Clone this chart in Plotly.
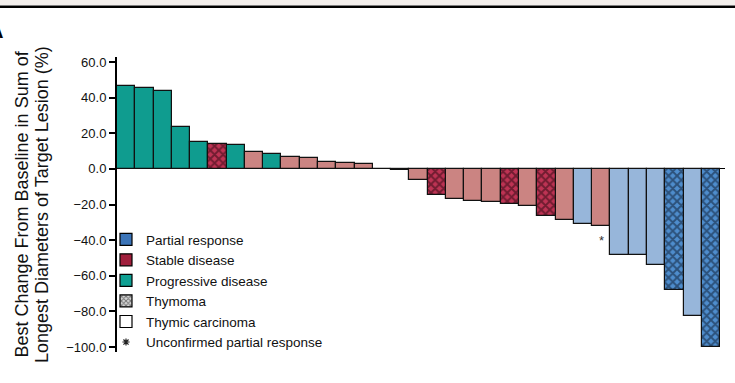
import plotly.graph_objects as go

# ---- data ----
values = [46.5, 45.5, 43.9, 23.4, 15.0, 14.0, 13.4, 9.6, 8.2, 6.7, 6.3, 3.7, 3.2, 3.0,
          0.0, -0.8, -6.5, -14.7, -16.9, -17.8, -18.5, -19.6, -21.1, -26.7, -28.5,
          -30.8, -32.3, -48.4, -48.4, -53.8, -68.2, -82.7, -100.0]
response = ["PD", "PD", "PD", "PD", "PD", "SD", "PD", "SD", "PD", "SD", "SD", "SD", "SD", "SD",
            "SD", "SD", "SD", "SD", "SD", "SD", "SD", "SD", "SD", "SD", "SD",
            "PR", "SD", "PR", "PR", "PR", "PR", "PR", "PR"]
histology = ["C", "C", "C", "C", "C", "T", "C", "C", "C", "C", "C", "C", "C", "C",
             "C", "C", "C", "T", "C", "C", "C", "T", "C", "T", "C",
             "C", "C", "C", "C", "C", "T", "C", "T"]
unconfirmed = [False] * 26 + [True] + [False] * 6
tick_values = [60, 40, 20, 0, -20, -40, -60, -80, -100]
legend_labels = ["Partial response", "Stable disease", "Progressive disease",
                 "Thymoma", "Thymic carcinoma", "Unconfirmed partial response"]

# ---- styles ----
FONT = "Liberation Sans, Arial, Helvetica, sans-serif"
carcinoma_color = {"PR": "#97B6DA", "SD": "#CB8482", "PD": "#0F9C8F"}
thymoma_bg = {"PR": "#4E8DCD", "SD": "#BE3354", "PD": "#0F9C8F"}
thymoma_fg = {"PR": "#0A1628", "SD": "#24060D", "PD": "#06302C"}
legend_color = {"PR": "#3B74B8", "SD": "#A01F3C", "PD": "#0FA093"}

fig = go.Figure()
for resp in ["PD", "SD", "PR"]:
    for hist in ["C", "T"]:
        xs = [i for i, (r, h) in enumerate(zip(response, histology)) if r == resp and h == hist]
        if not xs:
            continue
        ys = [values[i] for i in xs]
        if hist == "T":
            marker = dict(color=thymoma_bg[resp], line=dict(color="#111111", width=1.2),
                          pattern=dict(shape="x", fgcolor=thymoma_fg[resp], size=6,
                                       solidity=0.55, fillmode="overlay"))
        else:
            marker = dict(color=carcinoma_color[resp], line=dict(color="#111111", width=1.2))
        fig.add_trace(go.Bar(x=xs, y=ys, width=1.0, showlegend=False, hoverinfo="y",
                             marker=marker))

# legend entries
for lab, key in zip(legend_labels[:3], ["PR", "SD", "PD"]):
    fig.add_trace(go.Bar(x=[None], y=[None], name=lab,
                         marker=dict(color=legend_color[key], line=dict(color="black", width=1.2))))
fig.add_trace(go.Bar(x=[None], y=[None], name=legend_labels[3],
                     marker=dict(color="#D8D8D8", line=dict(color="black", width=1.2),
                                 pattern=dict(shape="x", fgcolor="#111111",
                                              size=4, solidity=0.5, fillmode="overlay"))))
fig.add_trace(go.Bar(x=[None], y=[None], name=legend_labels[4],
                     marker=dict(color="white", line=dict(color="black", width=1.2))))
fig.add_trace(go.Scatter(x=[None], y=[None], mode="markers", name=legend_labels[5],
                         marker=dict(symbol="asterisk-open", size=6, color="#222222",
                                     line=dict(color="#222222", width=1.2))))

annotations = []
for i, (v, u) in enumerate(zip(values, unconfirmed)):
    if u:
        annotations.append(dict(x=i, y=v, xref="x", yref="y", text="*", showarrow=False,
                                yanchor="top", yshift=-5,
                                font=dict(family=FONT, size=13, color="#333333")))

# y-axis title lines
annotations.append(dict(xref="paper", yref="paper", x=(21 - 117) / 608, y=0.5,
                        text="Best Change From Baseline in Sum of", textangle=-90,
                        showarrow=False, xanchor="center", yanchor="middle",
                        font=dict(family=FONT, size=18, color="#111111")))
annotations.append(dict(xref="paper", yref="paper", x=(41.5 - 117) / 608, y=0.5,
                        text="Longest Diameters of Target Lesion (%)", textangle=-90,
                        showarrow=False, xanchor="center", yanchor="middle",
                        font=dict(family=FONT, size=18, color="#111111")))
# panel letter (cropped at the left edge, as in the reference)
annotations.append(dict(xref="paper", yref="paper", x=(5 - 117) / 608, y=(352 - 31) / 295,
                        text="<b>A</b>", showarrow=False, xanchor="right", yanchor="middle",
                        font=dict(family=FONT, size=20, color="black")))

shapes = [
    dict(type="rect", xref="paper", yref="paper", x0=-0.21, x1=1.03,
         y0=(352 - 5) / 295, y1=(352 + 2) / 295 + 1, fillcolor="#F3EFEC", line=dict(width=0),
         layer="below"),
    dict(type="line", xref="paper", yref="paper", x0=-0.21, x1=1.03,
         y0=(352 - 6.8) / 295, y1=(352 - 6.8) / 295, line=dict(color="black", width=2.5)),
]

fig.update_layout(
    width=735, height=383,
    margin=dict(l=117, r=10, t=57, b=31, autoexpand=False),
    paper_bgcolor="white", plot_bgcolor="white",
    bargap=0, barmode="overlay",
    font=dict(family=FONT, color="#111111"),
    showlegend=True,
    legend=dict(x=(106 - 117) / 608, y=(352 - 224) / 295, xanchor="left", yanchor="top",
                bgcolor="rgba(0,0,0,0)", borderwidth=0, traceorder="normal",
                font=dict(family=FONT, size=13.5, color="#111111")),
    xaxis=dict(visible=False, range=[-0.5, 32.77]),
    yaxis=dict(range=[-102.8, 62.8], tickvals=tick_values, tickformat=".1f",
               showline=True, linecolor="black", linewidth=2, ticks="outside",
               ticklen=6, tickwidth=1.5, tickcolor="black", showgrid=False,
               zeroline=True, zerolinecolor="black", zerolinewidth=1.2,
               tickfont=dict(family=FONT, size=13, color="#111111")),
    annotations=annotations,
    shapes=shapes,
)

fig.write_html("out.html")
